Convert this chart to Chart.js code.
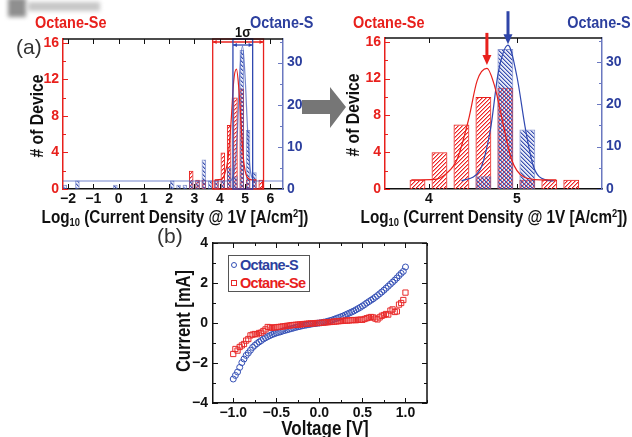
<!DOCTYPE html>
<html>
<head>
<meta charset="utf-8">
<script src="https://cdn.jsdelivr.net/npm/chart.js@4.4.1/dist/chart.umd.min.js"></script>
<style>
  body { margin: 0; background: #fff; }
  #fig { position: relative; width: 632px; height: 437px; overflow: hidden; background: #fff;
         font-family: "Liberation Sans", Arial, sans-serif; font-weight: bold; }
  #fig canvas { position: absolute; }
  .t { position: absolute; white-space: nowrap; line-height: 1; z-index: 2; color: #111; }
  .c { transform: translate(-50%, -50%) scaleX(0.85); }
  .l { transform: translateY(-50%) scaleX(0.85); transform-origin: left center; }
  .r { transform: translateY(-50%) scaleX(0.85); transform-origin: right center; }
  .v { transform: translate(-50%, -50%) rotate(-90deg) scaleX(0.85); }
  .red { color: #e8201c; }
  .blue { color: #2c3f9e; }
  .panel { font-weight: normal; color: #333; font-size: 21px; transform: translateY(-50%); }
  .sub { font-size: 11px; position: relative; top: 3px; }
  .sup { font-size: 11px; position: relative; top: -6px; }
  .wm { position: absolute; background: #8f8f8f; filter: blur(2px); z-index: 1; }
  #legend { position: absolute; left: 228px; top: 255px; width: 80px; height: 35px; border: 1.5px solid #555;
            background: #fff; z-index: 2; font-size: 14.5px; letter-spacing: -0.7px; }
  #legend div { height: 18px; line-height: 18px; position: relative; padding-left: 11px; white-space: nowrap; }
  .mk { position: absolute; left: 2px; top: 6px; width: 6px; height: 6px; box-sizing: border-box; }
</style>
</head>
<body>
<div id="fig">
  <div class="wm" style="left:8px;top:-2px;width:18px;height:19px;"></div>
  <div class="wm" style="left:28px;top:2px;width:72px;height:9px;opacity:.5;"></div>

  <canvas id="histFull" width="320" height="205" style="left:0;top:0;"></canvas>
  <canvas id="histZoom" width="312" height="205" style="left:320px;top:0;"></canvas>
  <canvas id="iv" width="290" height="212" style="left:150px;top:225px;"></canvas>

  <svg style="position:absolute;left:0;top:0;" width="632" height="437">
    <polygon points="302,100 330,100 330,87 346,107 330,128 330,114 302,114" fill="#767676"/>
  </svg>

  <div class="t l red" style="left:35px;top:22px;font-size:17px;">Octane-Se</div>
  <div class="t l blue" style="left:250px;top:22px;font-size:17px;">Octane-S</div>
  <div class="t l red" style="left:353px;top:22px;font-size:17px;">Octane-Se</div>
  <div class="t r blue" style="right:1px;top:22px;font-size:17px;">Octane-S</div>
  <div class="t c" style="left:243px;top:31px;font-size:15px;">1σ</div>
  <div class="t panel" style="left:16px;top:46px;">(a)</div>
  <div class="t panel" style="left:157px;top:235px;">(b)</div>

  <div class="t v" style="left:37px;top:116px;font-size:18.5px;"># of Device</div>
  <div class="t v" style="left:353px;top:115px;font-size:18.5px;"># of Device</div>
  <div class="t c" style="left:175px;top:217px;font-size:18px;">Log<span class="sub">10</span> (Current Density @ 1V [A/cm<span class="sup">2</span>])</div>
  <div class="t c" style="left:494px;top:217px;font-size:18px;">Log<span class="sub">10</span> (Current Density @ 1V [A/cm<span class="sup">2</span>])</div>

  <div class="t v" style="left:184px;top:321px;font-size:19.5px;">Current [mA]</div>
  <div class="t c" style="left:325px;top:428px;font-size:20px;">Voltage [V]</div>

  <div id="legend">
    <div class="blue"><span class="mk" style="border:1px solid #3550b5;border-radius:50%;"></span>Octane-S</div>
    <div class="red"><span class="mk" style="border:1px solid #e82a2a;"></span>Octane-Se</div>
  </div>
</div>

<script>
// ---- panel (a), full range: bin centres (log10 J) and device counts ----
const binsFull = [-2.13, -1.63, -0.13, 2.12, 2.37, 2.62, 2.87, 3.12, 3.37, 3.62, 3.87, 4.12, 4.37, 4.62, 4.87, 5.12, 5.37, 5.62];
const seFull   = [null, null, null, null, null, null, 2, 1, 1, null, 1, 4, 7, 10, 11, 1, 1, 1];
const sFull    = [1, 2, 1, 2, 1, 1, 2, 2, 7, 2, 2, 2, 5, 3, 33, 14, 4, null];

// ---- panel (a), zoomed ----
const binsZoom = [3.87, 4.12, 4.37, 4.62, 4.87, 5.12, 5.37, 5.62];
const seZoom   = [1, 4, 7, 10, 11, 1, 1, 1];
const sZoom    = [null, null, null, 3, 33, 14, null, null];

// gaussian fits
const seFitX = [3.80, 4.07, 4.20, 4.32, 4.45, 4.55, 4.66, 4.75, 4.85, 4.94, 5.08, 5.27, 5.45];
const seFitY = [1.0, 1.05, 1.7, 3.2, 7.5, 11.8, 13.1, 11.1, 6.8, 3.2, 1.3, 1.0, 1.0];
const sFitX  = [4.37, 4.58, 4.70, 4.79, 4.90, 5.00, 5.10, 5.19, 5.34, 5.42];
const sFitY  = [1.9, 4.5, 14, 27.5, 33.9, 26.7, 14, 5.3, 2.1, 1.9];

// 1-sigma windows (log10 J)
const seSigma = [3.72, 5.73];
const sSigma  = [4.52, 5.30];

// axis ticks
const logTicksFull = [-2, -1, 0, 1, 2, 3, 4, 5, 6];
const logTicksZoom = [4, 5];
const seCountTicks = [0, 4, 8, 12, 16];
const sCountTicks  = [0, 10, 20, 30];

// ---- panel (b): I-V sweep ----
const voltage = [-1, -0.975, -0.95, -0.925, -0.9, -0.875, -0.85, -0.825, -0.8, -0.775,
  -0.75, -0.725, -0.7, -0.675, -0.65, -0.625, -0.6, -0.575, -0.55, -0.525,
  -0.5, -0.475, -0.45, -0.425, -0.4, -0.375, -0.35, -0.325, -0.3, -0.275,
  -0.25, -0.225, -0.2, -0.175, -0.15, -0.125, -0.1, -0.075, -0.05, -0.025,
  0, 0.025, 0.05, 0.075, 0.1, 0.125, 0.15, 0.175, 0.2, 0.225,
  0.25, 0.275, 0.3, 0.325, 0.35, 0.375, 0.4, 0.425, 0.45, 0.475,
  0.5, 0.525, 0.55, 0.575, 0.6, 0.625, 0.65, 0.675, 0.7, 0.725,
  0.75, 0.775, 0.8, 0.825, 0.85, 0.875, 0.9, 0.925, 0.95, 0.975, 1];
const currentS = [-2.80, -2.62, -2.45, -2.22, -1.98, -1.80, -1.62, -1.50, -1.36, -1.22,
  -1.12, -1.03, -0.95, -0.88, -0.80, -0.74, -0.68, -0.63, -0.58, -0.54,
  -0.50, -0.47, -0.44, -0.40, -0.37, -0.34, -0.31, -0.28, -0.25, -0.22,
  -0.19, -0.17, -0.14, -0.12, -0.10, -0.08, -0.06, -0.04, -0.03, -0.01,
  0.00, 0.02, 0.04, 0.06, 0.09, 0.12, 0.15, 0.19, 0.23, 0.27,
  0.31, 0.35, 0.40, 0.45, 0.50, 0.55, 0.60, 0.66, 0.72, 0.78,
  0.85, 0.92, 1.00, 1.07, 1.14, 1.21, 1.29, 1.37, 1.46, 1.55,
  1.64, 1.74, 1.84, 1.94, 2.04, 2.14, 2.25, 2.37, 2.48, 2.58, 2.80];
const currentSe = [-1.55, -1.30, -1.38, -1.20, -1.12, -1.05, -0.88, -0.80, -0.62, -0.58,
  -0.55, -0.56, -0.50, -0.48, -0.40, -0.32, -0.20, -0.22, -0.24, -0.22,
  -0.21, -0.20, -0.19, -0.17, -0.16, -0.14, -0.13, -0.11, -0.10, -0.09,
  -0.08, -0.07, -0.06, -0.05, -0.04, -0.03, -0.02, -0.02, -0.01, 0.00,
  0.00, 0.01, 0.02, 0.03, 0.04, 0.05, 0.06, 0.07, 0.08, 0.09,
  0.10, 0.11, 0.12, 0.12, 0.13, 0.14, 0.15, 0.14, 0.16, 0.17,
  0.16, 0.20, 0.24, 0.27, 0.30, 0.28, 0.22, 0.18, 0.28, 0.36,
  0.40, 0.45, 0.42, 0.62, 0.68, 0.55, 0.58, 0.92, 1.00, 1.15, 1.52];
const vTicks = [-1, -0.5, 0, 0.5, 1];
const iTicks = [-4, -2, 0, 2, 4];

// ---- styling ----
const RED = '#e8201c';
const BLUE = '#2c3f9e';
const BLUE_AXIS = '#6a78c0';
const tickFont = { family: '"Liberation Sans", Arial, sans-serif', size: 14, weight: 'bold' };

const pts = (xs, ys) => xs.map((x, i) => ({ x, y: ys[i] })).filter(p => p.y !== null);
const minus = v => String(v).replace('-', '\u2212');
const setTicks = vals => s => { s.ticks = vals.map(v => ({ value: v })); };
const fixW = w => s => { s.width = w; };
const fixH = h => s => { s.height = h; };

// diagonal hatch, "/" or "\", two pixels wide so the colour survives downsampling
function hatch(ctx, color, back, tint) {
    const c = document.createElement('canvas');
    c.width = c.height = 4;
    const g = c.getContext('2d');
    if (tint) { g.fillStyle = tint; g.fillRect(0, 0, 4, 4); }
    g.fillStyle = color;
    for (let i = 0; i < 4; i++) {
        const x = back ? i : 3 - i;
        g.fillRect(x, i, 1, 1);
        g.globalAlpha = 0.45;
        g.fillRect((x + 1) % 4, i, 1, 1);
        g.globalAlpha = 1;
    }
    return ctx.createPattern(c, 'repeat');
}

// short tick marks pointing into the plot
const innerTicks = {
    id: 'innerTicks',
    afterDraw(chart, args, opts) {
        const { ctx, chartArea: a } = chart;
        ctx.save();
        opts.axes.forEach(ax => {
            const s = chart.scales[ax.id];
            const marks = s.ticks.map(t => [t.value, 5]);
            if (ax.minor) {
                for (let v = Math.ceil(s.min / ax.minor) * ax.minor; v <= s.max + 1e-9; v += ax.minor) marks.push([v, 3]);
            }
            ctx.strokeStyle = ax.color;
            ctx.lineWidth = 1;
            ctx.beginPath();
            marks.forEach(([v, len]) => {
                const p = Math.round(s.getPixelForValue(v)) + 0.5;
                ax.sides.forEach(side => {
                    if (side === 'bottom') { ctx.moveTo(p, a.bottom); ctx.lineTo(p, a.bottom - len); }
                    if (side === 'top') { ctx.moveTo(p, a.top); ctx.lineTo(p, a.top + len); }
                    if (side === 'left') { ctx.moveTo(a.left, p); ctx.lineTo(a.left + len, p); }
                    if (side === 'right') { ctx.moveTo(a.right, p); ctx.lineTo(a.right - len, p); }
                });
            });
            ctx.stroke();
        });
        ctx.restore();
    },
};

// top (and optionally right) edge of the plot box
const frame = {
    id: 'frame',
    afterDraw(chart, args, opts) {
        const { ctx, chartArea: a } = chart;
        ctx.save();
        ctx.strokeStyle = opts.color;
        ctx.lineWidth = 1.5;
        ctx.beginPath();
        ctx.moveTo(a.left, a.top); ctx.lineTo(a.right, a.top);
        if (opts.right) { ctx.moveTo(a.right, a.top); ctx.lineTo(a.right, a.bottom); }
        ctx.stroke();
        ctx.restore();
    },
};

// 1 sigma boxes with a double arrow near the top
const sigmaWindows = {
    id: 'sigmaWindows',
    afterDatasetsDraw(chart, args, opts) {
        if (!opts.windows) return;
        const { ctx, chartArea: a, scales: { x } } = chart;
        ctx.save();
        opts.windows.forEach(w => {
            const x0 = x.getPixelForValue(w.range[0]);
            const x1 = x.getPixelForValue(w.range[1]);
            ctx.strokeStyle = w.color;
            ctx.fillStyle = w.color;
            ctx.lineWidth = 1.3;
            ctx.strokeRect(x0, a.top, x1 - x0, a.bottom - a.top);
            const y = a.top + w.inset;
            ctx.beginPath(); ctx.moveTo(x0, y); ctx.lineTo(x1, y); ctx.stroke();
            [[x0, 1], [x1, -1]].forEach(([px, d]) => {
                ctx.beginPath();
                ctx.moveTo(px, y); ctx.lineTo(px + 4 * d, y - 2); ctx.lineTo(px + 4 * d, y + 2);
                ctx.closePath(); ctx.fill();
            });
        });
        ctx.restore();
    },
};

// arrows marking the peak of each fit
const peakArrows = {
    id: 'peakArrows',
    afterDraw(chart, args, opts) {
        if (!opts.arrows) return;
        const { ctx } = chart;
        ctx.save();
        opts.arrows.forEach(ar => {
            const ds = chart.data.datasets[ar.dataset];
            const top = ds.data.reduce((m, p) => (p.y > m.y ? p : m));
            const px = chart.scales.x.getPixelForValue(top.x);
            const py = chart.scales[ds.yAxisID].getPixelForValue(top.y) - ar.gap;
            ctx.fillStyle = ar.color;
            ctx.fillRect(px - 1.5, py - ar.len, 3, ar.len - 9);
            ctx.beginPath();
            ctx.moveTo(px - 4.5, py - 10); ctx.lineTo(px + 4.5, py - 10); ctx.lineTo(px, py);
            ctx.closePath(); ctx.fill();
        });
        ctx.restore();
    },
};

function histChart(id, cfg) {
    const ctx = document.getElementById(id).getContext('2d');
    return new Chart(ctx, {
        type: 'bar',
        data: {
            datasets: [{
                type: 'line',
                label: 'Octane-Se fit',
                data: pts(cfg.seFitX, cfg.seFitY),
                yAxisID: 'y',
                borderColor: RED,
                borderWidth: 1.2,
                pointRadius: 0,
                cubicInterpolationMode: 'monotone',
                order: 0,
            }, {
                type: 'line',
                label: 'Octane-S fit',
                data: pts(cfg.sFitX, cfg.sFitY),
                yAxisID: 'y2',
                borderColor: cfg.sFitColor,
                borderWidth: 1.2,
                pointRadius: 0,
                cubicInterpolationMode: 'monotone',
                order: 0,
            }, {
                label: 'Octane-Se',
                data: pts(cfg.bins, cfg.se),
                yAxisID: 'y',
                backgroundColor: hatch(ctx, '#ee2222', false),
                borderColor: RED,
                borderWidth: 1,
                grouped: false,
                barPercentage: 0.72,
                categoryPercentage: 1,
                order: 2,
            }, {
                label: 'Octane-S',
                data: pts(cfg.bins, cfg.s),
                yAxisID: 'y2',
                backgroundColor: hatch(ctx, '#3a50b0', true, 'rgba(150,165,225,0.25)'),
                borderColor: 'rgba(80,100,185,0.65)',
                borderWidth: 1,
                grouped: false,
                barPercentage: 0.72,
                categoryPercentage: 1,
                order: 1,
            }],
        },
        options: {
            responsive: false,
            animation: false,
            layout: { padding: { top: cfg.top, left: 0, right: 0, bottom: 0 } },
            plugins: {
                legend: { display: false },
                tooltip: { enabled: false },
                frame: { color: '#111' },
                innerTicks: {
                    axes: [
                        { id: 'x', sides: ['bottom', 'top'], color: '#111' },
                        { id: 'y', sides: ['left'], color: RED, minor: 2 },
                        { id: 'y2', sides: ['right'], color: BLUE_AXIS, minor: 5 },
                    ],
                },
                sigmaWindows: { windows: cfg.windows },
                peakArrows: { arrows: cfg.arrows },
            },
            scales: {
                x: {
                    type: 'linear',
                    min: cfg.xMin,
                    max: cfg.xMax,
                    offset: false,
                    grid: { display: false, drawTicks: false },
                    border: { color: '#111', width: 1.5 },
                    ticks: { color: '#111', font: tickFont, padding: 2, maxRotation: 0, autoSkip: false, callback: minus },
                    afterBuildTicks: setTicks(cfg.xTicks),
                    afterFit: fixH(cfg.xh),
                },
                y: {
                    position: 'left',
                    min: 0,
                    max: 16.4,
                    grid: { display: false, drawTicks: false },
                    border: { color: RED, width: 1.5 },
                    ticks: { color: RED, font: tickFont, padding: 4 },
                    afterBuildTicks: setTicks(seCountTicks),
                    afterFit: fixW(cfg.yw),
                },
                y2: {
                    position: 'right',
                    min: 0,
                    max: 35.6,
                    grid: { display: false, drawTicks: false },
                    border: { color: BLUE_AXIS, width: 1.5 },
                    ticks: { color: BLUE, font: tickFont, padding: 4 },
                    afterBuildTicks: setTicks(sCountTicks),
                    afterFit: fixW(cfg.y2w),
                },
            },
        },
        plugins: [innerTicks, frame, sigmaWindows, peakArrows],
    });
}

const xMinFull = -2.2;
const xMaxFull = 6.5;

histChart('histFull', {
    bins: binsFull, se: seFull, s: sFull,
    seFitX, seFitY,
    sFitX: [xMinFull, ...sFitX, xMaxFull],
    sFitY: [sFitY[0], ...sFitY, sFitY[sFitY.length - 1]],
    sFitColor: 'rgba(70,95,190,0.75)',
    xMin: xMinFull, xMax: xMaxFull, xTicks: logTicksFull,
    top: 39, yw: 63, y2w: 37, xh: 16,
    windows: [
        { range: seSigma, color: RED, inset: 3 },
        { range: sSigma, color: '#3048b0', inset: 6 },
    ],
});

histChart('histZoom', {
    bins: binsZoom, se: seZoom, s: sZoom,
    seFitX, seFitY, sFitX, sFitY,
    sFitColor: '#3048b0',
    xMin: 3.5, xMax: 5.97, xTicks: logTicksZoom,
    top: 38, yw: 65, y2w: 30, xh: 16,
    arrows: [
        { dataset: 0, color: RED, gap: 3.5, len: 32 },
        { dataset: 1, color: '#2f45a8', gap: 1, len: 33 },
    ],
});

// panel (b)
const ivCtx = document.getElementById('iv').getContext('2d');
new Chart(ivCtx, {
    type: 'scatter',
    data: {
        datasets: [{
            label: 'Octane-S',
            data: pts(voltage, currentS),
            pointStyle: 'circle',
            pointRadius: 3,
            pointBorderWidth: 1,
            borderColor: '#3550b5',
            backgroundColor: 'transparent',
            order: 1,
        }, {
            label: 'Octane-Se',
            data: pts(voltage, currentSe),
            pointStyle: 'rect',
            pointRadius: 3.7,
            pointBorderWidth: 1,
            borderColor: '#e82a2a',
            backgroundColor: 'transparent',
            order: 0,
        }],
    },
    options: {
        responsive: false,
        animation: false,
        layout: { padding: { top: 18, right: 13, left: 0, bottom: 0 } },
        plugins: {
            legend: { display: false },
            tooltip: { enabled: false },
            frame: { color: '#111', right: true },
            innerTicks: {
                axes: [
                    { id: 'x', sides: ['bottom', 'top'], color: '#111', minor: 0.25 },
                    { id: 'y', sides: ['left', 'right'], color: '#111', minor: 1 },
                ],
            },
        },
        scales: {
            x: {
                type: 'linear',
                min: -1.235,
                max: 1.25,
                grid: { display: false, drawTicks: false },
                border: { color: '#111', width: 1.5 },
                ticks: { color: '#111', font: tickFont, padding: 2, maxRotation: 0, autoSkip: false,
                         callback: v => minus(v.toFixed(1)) },
                afterBuildTicks: setTicks(vTicks),
                afterFit: fixH(34),
            },
            y: {
                min: -4,
                max: 4,
                grid: { display: false, drawTicks: false },
                border: { color: '#111', width: 1.5 },
                ticks: { color: '#111', font: tickFont, padding: 5, callback: minus },
                afterBuildTicks: setTicks(iTicks),
                afterFit: fixW(63),
            },
        },
    },
    plugins: [innerTicks, frame],
});
</script>
</body>
</html>
